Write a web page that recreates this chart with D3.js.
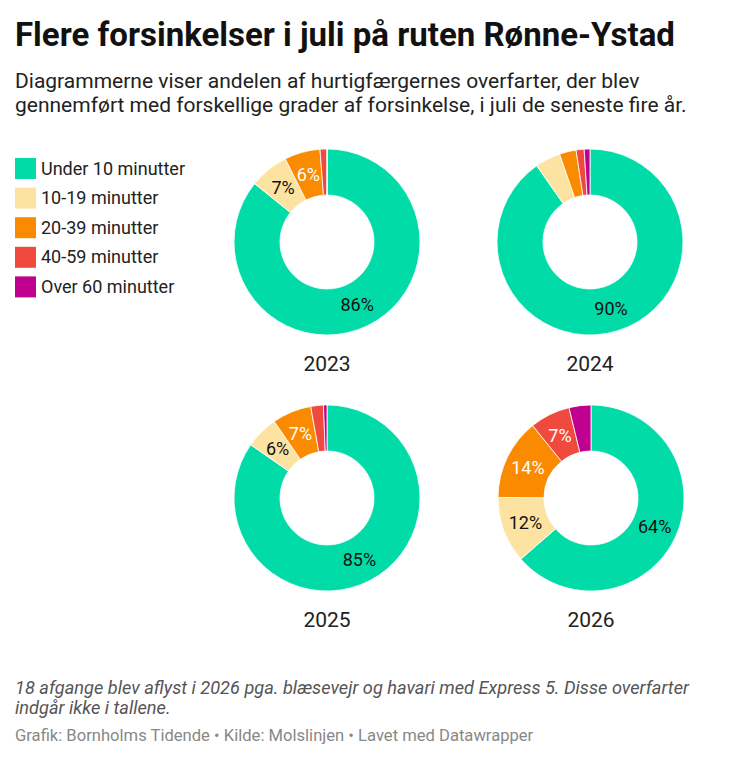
<!DOCTYPE html>
<html>
<head>
<meta charset="utf-8">
<script src="https://cdn.jsdelivr.net/npm/d3@7"></script>
<style>
  body { margin: 0; background: #fff; font-family: Roboto, sans-serif; }
</style>
</head>
<body>
<div id="chart-area"></div>
<script>
const categories = ["Under 10 minutter", "10-19 minutter", "20-39 minutter", "40-59 minutter", "Over 60 minutter"];
const colors = ["#00dba8", "#fde3a2", "#fa8b00", "#f04a3e", "#c0008f"];
const labelColors = ["#111", "#111", "#fff", "#fff", "#fff"];

const years = ["2023", "2024", "2025", "2026"];
const values2023 = [85.8, 6.8, 6.2, 1.2, 0];
const values2024 = [90.3, 4.4, 2.9, 1.4, 1.0];
const values2025 = [84.7, 5.7, 6.8, 2.2, 0.6];
const values2026 = [63.6, 11.5, 14.1, 7.0, 3.8];
const allValues = [values2023, values2024, values2025, values2026];

const width = 730;
const height = 760;

const svg = d3.select("#chart-area")
  .append("svg")
  .attr("width", width)
  .attr("height", height);

svg.append("text")
  .attr("x", 15)
  .attr("y", 46)
  .attr("font-size", "33px")
  .attr("font-weight", "bold")
  .attr("fill", "#111")
  .text("Flere forsinkelser i juli på ruten Rønne-Ystad");

const sub = svg.append("text")
  .attr("font-size", "21px")
  .attr("fill", "#222");
sub.append("tspan").attr("x", 15).attr("y", 88)
  .text("Diagrammerne viser andelen af hurtigfærgernes overfarter, der blev");
sub.append("tspan").attr("x", 15).attr("y", 112)
  .text("gennemført med forskellige grader af forsinkelse, i juli de seneste fire år.");

// legend
const color = d3.scaleOrdinal().domain(categories).range(colors);
const legend = svg.append("g").attr("transform", "translate(15, 158)");
categories.forEach((c, i) => {
  const row = legend.append("g").attr("transform", `translate(0, ${i * 29.6})`);
  row.append("rect")
    .attr("width", 21)
    .attr("height", 21)
    .attr("fill", color(c));
  row.append("text")
    .attr("x", 26)
    .attr("y", 16.5)
    .attr("font-size", "18px")
    .attr("fill", "#222")
    .text(c);
});

// donuts
const centers = [[327, 242], [590, 242], [327, 498], [591, 498]];
const outerR = 93;
const innerR = 47;

const pie = d3.pie().sort(null).value(d => d.value);
const arc = d3.arc().innerRadius(innerR).outerRadius(outerR);
const labelArc = d3.arc().innerRadius((innerR + outerR) / 2).outerRadius((innerR + outerR) / 2);

years.forEach((year, yi) => {
  const data = categories.map((c, i) => ({ cat: c, idx: i, value: allValues[yi][i] }));
  const g = svg.append("g")
    .attr("transform", `translate(${centers[yi][0]}, ${centers[yi][1]})`);

  const arcs = pie(data);

  g.selectAll("path")
    .data(arcs)
    .enter()
    .append("path")
    .attr("d", arc)
    .attr("fill", d => color(d.data.cat))
    .attr("stroke", "#fff")
    .attr("stroke-width", 0.8);

  g.selectAll("text.lbl")
    .data(arcs.filter(d => d.data.value >= 5))
    .enter()
    .append("text")
    .attr("class", "lbl")
    .attr("transform", d => `translate(${labelArc.centroid(d)})`)
    .attr("text-anchor", "middle")
    .attr("dy", "0.35em")
    .attr("font-size", "18px")
    .attr("fill", d => labelColors[d.data.idx])
    .text(d => Math.round(d.data.value) + "%");

  g.append("text")
    .attr("y", 129)
    .attr("text-anchor", "middle")
    .attr("font-size", "21px")
    .attr("fill", "#222")
    .text(year);
});

// notes
const note = svg.append("text")
  .attr("font-size", "18.2px")
  .attr("font-style", "italic")
  .attr("fill", "#555");
note.append("tspan").attr("x", 15).attr("y", 694)
  .text("18 afgange blev aflyst i 2026 pga. blæsevejr og havari med Express 5. Disse overfarter");
note.append("tspan").attr("x", 15).attr("y", 714)
  .text("indgår ikke i tallene.");

svg.append("text")
  .attr("x", 15)
  .attr("y", 741)
  .attr("font-size", "16.6px")
  .attr("fill", "#888")
  .text("Grafik: Bornholms Tidende • Kilde: Molslinjen • Lavet med Datawrapper");
</script>
</body>
</html>
